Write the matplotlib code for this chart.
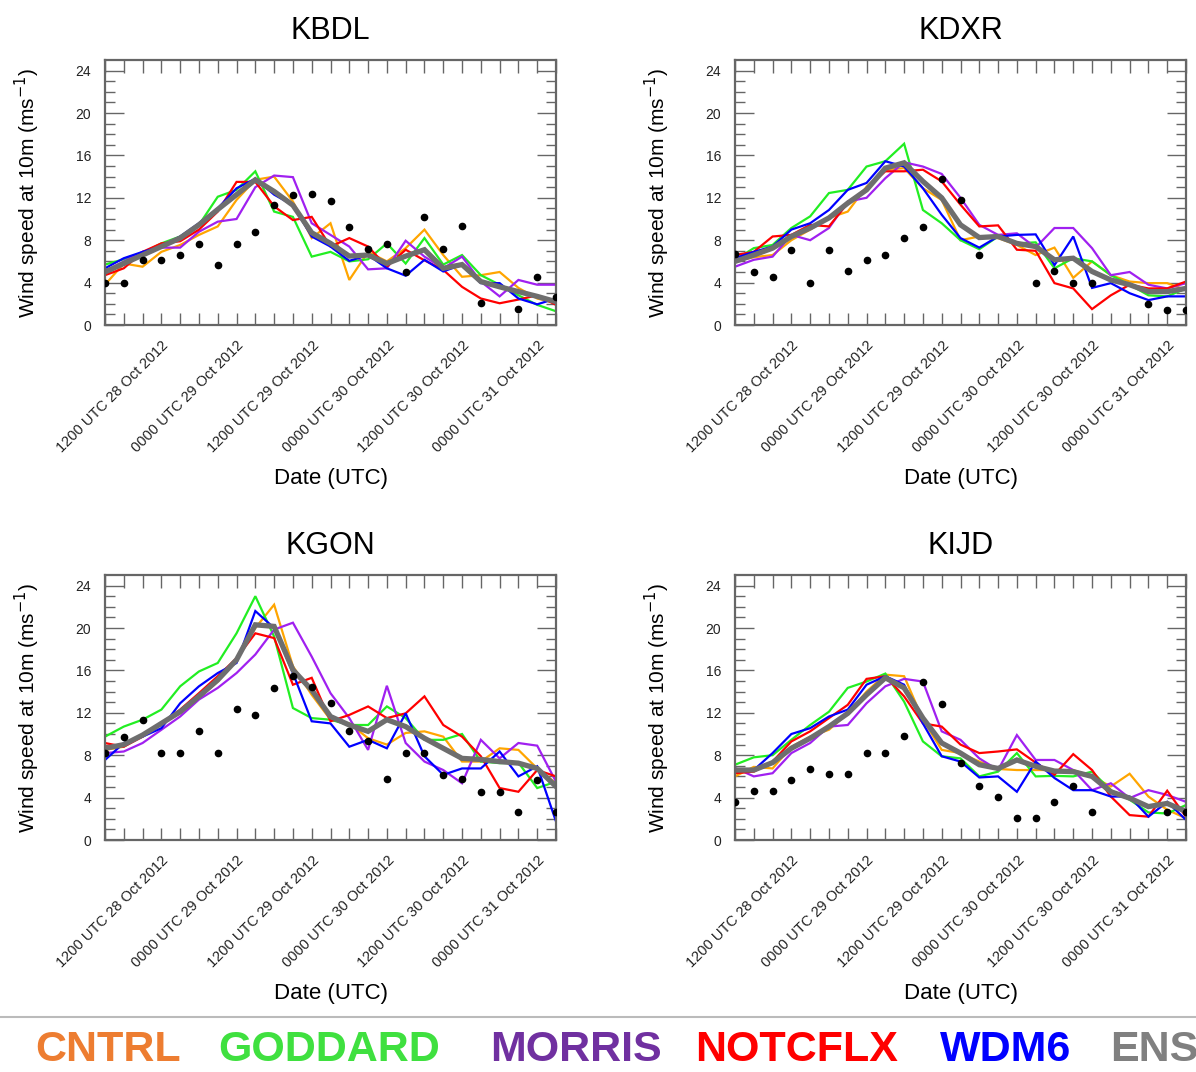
import numpy as np
import matplotlib
matplotlib.use("Agg")
import matplotlib.pyplot as plt
from matplotlib import transforms

plt.rcParams['font.family'] = ['Liberation Sans', 'DejaVu Sans']

# forecast hours after 0600 UTC 28 Oct 2012, 3-hourly output
hours = np.arange(0, 73, 3)
tick_hours = [6, 18, 30, 42, 54, 66]
tick_labels = ['1200 UTC 28 Oct 2012', '0000 UTC 29 Oct 2012', '1200 UTC 29 Oct 2012',
               '0000 UTC 30 Oct 2012', '1200 UTC 30 Oct 2012', '0000 UTC 31 Oct 2012']

stations = ['KBDL', 'KDXR', 'KGON', 'KIJD']
models = ['CNTRL', 'GODDARD', 'MORRIS', 'NOTCFLX', 'WDM6', 'ENS']
nan = np.nan

# --- KBDL ---
kbdl_obs = [4.0, 4.0, 6.1, 6.1, 6.6, 7.6, 5.7, 7.65, 8.75, 11.3, 12.3, 12.35, 11.7,
            9.2, 7.15, 7.6, 5.0, 10.2, 7.15, 9.3, 2.1, nan, 1.5, 4.5, 2.6]
kbdl_cntrl = [3.8, 5.8, 5.5, 6.9, 7.55, 8.5, 9.3, 11.8, 13.7, 14.0, 11.65, 8.2, 9.6,
              4.25, 6.9, 6.0, 7.25, 9.0, 6.6, 4.55, 4.7, 5.0, 3.5, 2.5, 2.05]
kbdl_goddard = [5.7, 6.2, 6.8, 7.7, 8.35, 9.45, 12.1, 12.75, 14.5, 10.7, 10.2, 6.45, 6.9,
                6.0, 6.2, 7.7, 5.8, 8.2, 5.7, 6.6, 4.7, 3.8, 2.8, 1.9, 1.3]
kbdl_morris = [5.05, 6.0, 6.9, 7.3, 7.3, 8.8, 9.75, 10.0, 13.0, 14.1, 13.95, 9.6, 8.5,
               7.4, 5.25, 5.35, 7.95, 6.45, 5.35, 6.45, 4.1, 2.7, 4.25, 3.8, 3.8]
kbdl_notcflx = [4.7, 5.35, 6.9, 7.7, 7.9, 9.0, 10.7, 13.5, 13.5, 11.2, 9.9, 10.2, 7.4,
                8.2, 7.4, 5.5, 7.1, 6.1, 5.2, 3.6, 2.5, 2.05, 2.4, 2.8, 1.9]
kbdl_wdm6 = [5.35, 6.3, 6.9, 7.4, 8.35, 9.6, 11.0, 12.9, 13.8, 12.3, 11.3, 8.35, 7.4,
             6.05, 6.6, 5.35, 4.65, 6.15, 5.05, 5.7, 3.95, 3.95, 2.5, 1.95, 2.5]
kbdl_ens = [5.0, 5.8, 6.6, 7.4, 8.2, 9.45, 10.9, 12.3, 13.7, 12.6, 11.3, 8.7, 7.7,
            6.5, 6.6, 5.8, 6.5, 7.1, 5.35, 5.7, 4.1, 3.6, 3.15, 2.7, 2.2]

# --- KDXR ---
kdxr_obs = [6.7, 5.0, 4.55, 7.1, 4.0, 7.1, 5.05, 6.1, 6.65, 8.2, 9.2, 13.8, 11.75,
            6.6, nan, nan, 4.0, 5.05, 4.0, 4.0, nan, nan, 2.0, 1.4, 1.4]
kdxr_cntrl = [6.0, 6.4, 6.6, 8.0, 9.0, 10.1, 10.7, 13.05, 14.65, 14.8, 12.9, 11.8, 8.0,
              8.35, 8.2, 7.55, 6.6, 7.3, 4.45, 6.0, 4.7, 4.1, 3.95, 3.95, 3.3]
kdxr_goddard = [6.15, 7.25, 7.55, 9.15, 10.25, 12.45, 12.75, 14.95, 15.45, 17.1, 10.85, 9.6, 8.0,
                7.15, 8.35, 7.7, 7.8, 5.35, 6.3, 6.0, 4.7, 3.8, 2.8, 2.7, 3.45]
kdxr_morris = [5.5, 6.15, 6.45, 8.5, 8.0, 9.15, 11.65, 12.0, 13.85, 15.35, 14.95, 14.25, 12.0,
               9.45, 8.5, 8.65, 7.3, 9.15, 9.15, 7.25, 4.7, 5.0, 3.8, 3.45, 3.95]
kdxr_notcflx = [6.6, 6.9, 8.35, 8.5, 9.45, 9.3, 11.5, 12.9, 14.5, 14.5, 14.65, 13.55, 11.35,
                9.3, 9.4, 7.1, 7.0, 3.95, 3.45, 1.5, 2.8, 3.8, 3.45, 3.45, 4.1]
kdxr_wdm6 = [6.3, 6.9, 7.4, 9.0, 9.6, 10.85, 12.75, 13.4, 15.45, 14.95, 12.9, 10.4, 8.2,
             7.3, 8.35, 8.5, 8.55, 5.65, 8.35, 3.5, 3.95, 3.0, 2.35, 2.7, 2.7]
kdxr_ens = [6.0, 6.6, 7.25, 8.35, 9.15, 10.1, 11.5, 12.75, 14.8, 15.3, 13.55, 12.0, 9.45,
            8.25, 8.35, 7.7, 7.4, 6.15, 6.3, 5.05, 4.25, 3.8, 3.15, 3.15, 3.45]

# --- KGON ---
kgon_obs = [8.2, 9.75, 11.35, 8.2, 8.2, 10.3, 8.2, 12.4, 11.75, 14.35, 15.45, 14.4, 12.9,
            10.25, 9.3, 5.75, 8.2, 8.2, 6.1, 5.75, 4.55, 4.55, 2.6, 5.7, 2.6]
kgon_cntrl = [8.5, 8.8, 9.9, 11.0, 11.95, 13.4, 14.95, 17.15, 20.0, 22.2, 16.4, 13.7, 11.35,
              11.0, 9.6, 9.0, 10.1, 10.25, 9.75, 7.4, 7.4, 8.65, 8.5, 6.75, 5.35]
kgon_goddard = [9.75, 10.7, 11.35, 12.3, 14.5, 15.9, 16.7, 19.5, 23.0, 19.2, 12.45, 11.5, 11.35,
                10.85, 10.85, 12.6, 11.5, 9.45, 9.45, 10.0, 7.4, 7.25, 7.3, 4.9, 5.5]
kgon_morris = [8.2, 8.35, 9.15, 10.4, 11.65, 13.25, 14.35, 15.75, 17.5, 19.85, 20.5, 17.3, 13.85,
               11.5, 8.5, 14.55, 9.15, 7.4, 6.6, 5.35, 9.45, 7.7, 9.15, 8.9, 5.5]
kgon_notcflx = [9.15, 8.8, 9.75, 11.0, 12.3, 13.85, 15.45, 17.15, 19.5, 19.05, 14.65, 15.3, 11.2,
                11.8, 12.6, 11.5, 11.95, 13.55, 10.85, 9.75, 7.9, 4.9, 4.55, 6.6, 6.0]
kgon_wdm6 = [7.55, 9.15, 9.75, 10.55, 12.9, 14.5, 15.75, 16.7, 21.6, 20.0, 15.75, 11.2, 11.0,
             8.8, 9.45, 8.65, 11.95, 7.9, 6.15, 6.75, 6.75, 8.35, 6.0, 6.95, 1.75]
kgon_ens = [8.65, 9.0, 9.9, 11.0, 12.1, 13.55, 15.1, 17.0, 20.3, 20.15, 16.05, 14.15, 11.65,
            10.85, 10.25, 11.35, 10.7, 9.6, 8.65, 7.7, 7.6, 7.4, 7.25, 6.75, 5.05]

# --- KIJD ---
kijd_obs = [3.6, 4.6, 4.6, 5.65, 6.7, 6.25, 6.25, 8.2, 8.2, 9.8, 14.9, 12.85, 7.25,
            5.1, 4.05, 2.1, 2.05, 3.6, 5.1, 2.65, nan, nan, nan, 2.65, 2.65]
kijd_cntrl = [6.0, 6.9, 6.75, 8.8, 9.75, 10.4, 11.95, 14.0, 15.6, 15.45, 11.35, 8.5, 8.2,
              7.4, 6.7, 6.6, 6.6, 6.6, 6.6, 6.0, 5.05, 6.25, 4.1, 2.85, 2.05]
kijd_goddard = [7.1, 7.8, 8.0, 9.45, 10.85, 12.1, 14.35, 14.95, 15.7, 13.05, 9.3, 7.9, 7.7,
                6.0, 6.45, 8.2, 6.0, 6.05, 6.0, 6.45, 4.7, 3.8, 2.6, 2.5, 3.3]
kijd_morris = [6.8, 6.0, 6.3, 8.2, 9.15, 10.7, 10.85, 12.9, 14.5, 15.2, 14.95, 10.25, 9.45,
               7.7, 6.6, 9.9, 7.55, 7.55, 6.6, 4.7, 5.35, 3.95, 4.7, 4.25, 3.6]
kijd_notcflx = [6.3, 6.45, 7.4, 9.3, 10.25, 11.5, 12.75, 15.2, 15.45, 13.55, 11.0, 10.7, 9.0,
                8.2, 8.35, 8.55, 7.3, 6.15, 8.1, 6.6, 4.1, 2.35, 2.2, 4.65, 2.2]
kijd_wdm6 = [6.7, 6.6, 8.2, 10.0, 10.55, 11.65, 12.3, 14.65, 15.45, 14.65, 11.0, 7.9, 7.4,
             5.9, 6.0, 4.55, 7.4, 5.85, 4.7, 4.7, 4.1, 4.1, 2.2, 3.6, 1.9]
kijd_ens = [6.6, 6.6, 7.3, 8.65, 9.6, 10.7, 11.95, 13.7, 15.3, 14.35, 11.5, 9.15, 8.2,
            7.1, 6.75, 7.55, 6.95, 6.5, 6.45, 6.0, 4.55, 3.95, 3.15, 3.45, 2.7]

runs = {
    'KBDL': [kbdl_cntrl, kbdl_goddard, kbdl_morris, kbdl_notcflx, kbdl_wdm6, kbdl_ens],
    'KDXR': [kdxr_cntrl, kdxr_goddard, kdxr_morris, kdxr_notcflx, kdxr_wdm6, kdxr_ens],
    'KGON': [kgon_cntrl, kgon_goddard, kgon_morris, kgon_notcflx, kgon_wdm6, kgon_ens],
    'KIJD': [kijd_cntrl, kijd_goddard, kijd_morris, kijd_notcflx, kijd_wdm6, kijd_ens],
}
obs = {'KBDL': kbdl_obs, 'KDXR': kdxr_obs, 'KGON': kgon_obs, 'KIJD': kijd_obs}

line_colors = ['#FFA500', '#22EE22', '#A020F0', '#FF0000', '#0000FF', '#6E6E6E']
line_widths = [1.6, 1.6, 1.6, 1.6, 1.6, 3.8]
legend_colors = ['#ED7D31', '#3FE03F', '#7030A0', '#FF0000', '#0000FF', '#808080']

W, H = 1196, 1072
fig = plt.figure(figsize=(W / 100, H / 100), dpi=100)

# panel boxes in pixels: left, top
boxes = {'KBDL': (105, 60), 'KDXR': (735, 60), 'KGON': (105, 575), 'KIJD': (735, 575)}
pw, ph = 451, 265
frame_col = '#666666'

for st in stations:
    x0, y0 = boxes[st]
    ax = fig.add_axes([x0 / W, 1 - (y0 + ph) / H, pw / W, ph / H])
    for vals, c, lw in zip(runs[st], line_colors, line_widths):
        ax.plot(hours, vals, color=c, lw=lw, solid_joinstyle='miter')
    ax.plot(hours, obs[st], 'o', color='black', ms=4.5, ls='none', zorder=5)

    ax.set_xlim(hours[0], hours[-1])
    ax.set_ylim(0, 25)
    ax.set_xticks(hours)
    ax.set_xticklabels([])
    ax.set_yticks(np.arange(0, 25, 4))
    ax.set_yticks(np.arange(0, 25, 1), minor=True)
    ax.tick_params(axis='both', which='both', direction='in', top=True, right=True,
                   color=frame_col, width=1.0)
    ax.tick_params(axis='x', which='major', length=9)
    ax.tick_params(axis='y', which='major', length=14, labelsize=10, labelcolor='#222222', pad=10)
    ax.tick_params(axis='y', which='minor', length=7)
    for sp in ax.spines.values():
        sp.set_color(frame_col)
        sp.set_linewidth(1.6)

    # rotated date labels, right end sits just below and right of its tick
    off = transforms.ScaledTranslation(19 / 100, -13 / 100, fig.dpi_scale_trans)
    for h, lab in zip(tick_hours, tick_labels):
        ax.text(h, 0, lab, transform=ax.get_xaxis_transform() + off, rotation=45,
                rotation_mode='anchor', ha='right', va='top', fontsize=10.5, color='#222222')

    ax.set_title(st, fontsize=22, pad=15)
    ax.set_ylabel('Wind speed at 10m (ms$^{-1}$)', fontsize=15)
    ax.yaxis.set_label_coords(-0.14, 0.5)
    ax.text(0.5, -0.578, 'Date (UTC)', transform=ax.transAxes, ha='center', va='center',
            fontsize=16)

# separator and model legend along the bottom
fig.add_artist(plt.Line2D([0, 1], [1 - 1017 / H, 1 - 1017 / H], color='#BBBBBB', lw=1.5))
legend_x = [35, 218, 490, 695, 940, 1110]
for name, c, lx in zip(models, legend_colors, legend_x):
    fig.text(lx / W, 1 - 1050 / H, name, color=c, fontsize=31, fontweight='bold',
             ha='left', va='center')

fig.savefig('out.png', dpi=100)
